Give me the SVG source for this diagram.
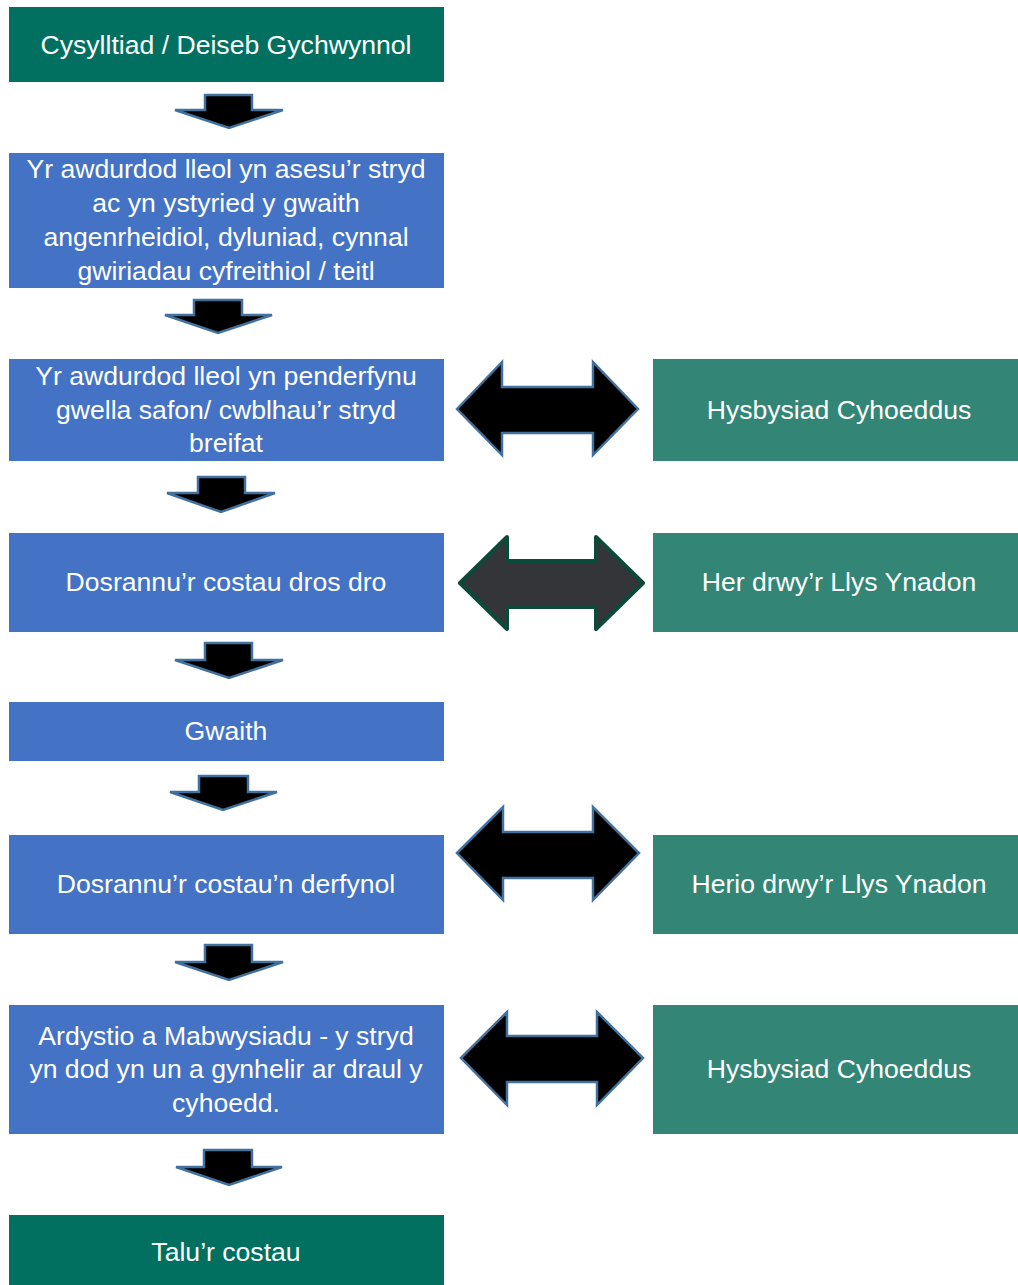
<svg xmlns="http://www.w3.org/2000/svg" width="1018" height="1285" viewBox="0 0 1018 1285">
<style>
.g{fill:#017060}
.b{fill:#4472C4}
.r{fill:#338675}
.t{font-family:"Liberation Sans",Arial,sans-serif;font-size:26.6px;fill:#ffffff;text-anchor:middle}
.da{fill:#000000;stroke:#41719C;stroke-width:2.5;stroke-linejoin:miter}
.ha{fill:#000000;stroke:#41719C;stroke-width:2.5}
.hd{fill:#333538;stroke:#0B4A3A;stroke-width:4;stroke-linejoin:round}
</style>
<rect width="1018" height="1285" fill="#ffffff"/>
<g id="n1"><rect class="g" x="9" y="7" width="435" height="75"/><text class="t" x="226" y="54">Cysylltiad / Deiseb Gychwynnol</text></g>
<g id="n2"><rect class="b" x="9" y="153" width="435" height="135"/>
<text class="t" x="226" y="178">Yr awdurdod lleol yn asesu’r stryd</text>
<text class="t" x="226" y="212">ac yn ystyried y gwaith</text>
<text class="t" x="226" y="246">angenrheidiol, dyluniad, cynnal</text>
<text class="t" x="226" y="280">gwiriadau cyfreithiol / teitl</text></g>
<g id="n3"><rect class="b" x="9" y="359" width="435" height="102"/>
<text class="t" x="226" y="385">Yr awdurdod lleol yn penderfynu</text>
<text class="t" x="226" y="419">gwella safon/ cwblhau’r stryd</text>
<text class="t" x="226" y="452">breifat</text></g>
<g id="n4"><rect class="b" x="9" y="533" width="435" height="99"/><text class="t" x="226" y="591">Dosrannu’r costau dros dro</text></g>
<g id="n5"><rect class="b" x="9" y="702" width="435" height="59"/><text class="t" x="226" y="740">Gwaith</text></g>
<g id="n6"><rect class="b" x="9" y="835" width="435" height="99"/><text class="t" x="226" y="893">Dosrannu’r costau’n derfynol</text></g>
<g id="n7"><rect class="b" x="9" y="1005" width="435" height="129"/>
<text class="t" x="226" y="1045">Ardystio a Mabwysiadu - y stryd</text>
<text class="t" x="226" y="1078">yn dod yn un a gynhelir ar draul y</text>
<text class="t" x="226" y="1112">cyhoedd.</text></g>
<g id="n8"><rect class="g" x="9" y="1215" width="435" height="70"/><text class="t" x="226" y="1261">Talu’r costau</text></g>
<g id="r1"><rect class="r" x="653" y="359" width="365" height="102"/><text class="t" x="839" y="419">Hysbysiad Cyhoeddus</text></g>
<g id="r2"><rect class="r" x="653" y="533" width="365" height="99"/><text class="t" x="839" y="591">Her drwy’r Llys Ynadon</text></g>
<g id="r3"><rect class="r" x="653" y="835" width="365" height="99"/><text class="t" x="839" y="893">Herio drwy’r Llys Ynadon</text></g>
<g id="r4"><rect class="r" x="653" y="1005" width="365" height="129"/><text class="t" x="839" y="1078">Hysbysiad Cyhoeddus</text></g>
<g id="connectors">
<polygon class="da" points="205,95 252,95 252,110 283,110 229,128 175,110 205,110"/>
<polygon class="da" points="194,300 242,300 242,315 272,315 218,333 165,315 194,315"/>
<polygon class="da" points="198,477 245,477 245,493 275,493 221,512 167,493 198,493"/>
<polygon class="da" points="205,643 252,643 252,660 283,660 229,678 175,660 205,660"/>
<polygon class="da" points="199,776 248,776 248,792 277,792 223,810 170,792 199,792"/>
<polygon class="da" points="205,945 252,945 252,962 283,962 229,980 175,962 205,962"/>
<polygon class="da" points="204,1150 252,1150 252,1167 282,1167 229,1185 176,1167 204,1167"/>
<polygon class="ha" points="457,409 502,362 502,387 593,387 593,362 638,409 593,455 593,433 502,433 502,455"/>
<polygon class="hd" points="460,583 507,537 507,561 596,561 596,537 643,583 596,629 596,607 507,607 507,629"/>
<polygon class="ha" points="457,853 503,807 503,832 593,832 593,807 639,853 593,900 593,878 503,878 503,900"/>
<polygon class="ha" points="461,1058 507,1012 507,1036 597,1036 597,1012 643,1058 597,1105 597,1082 507,1082 507,1105"/>
</g>
</svg>
